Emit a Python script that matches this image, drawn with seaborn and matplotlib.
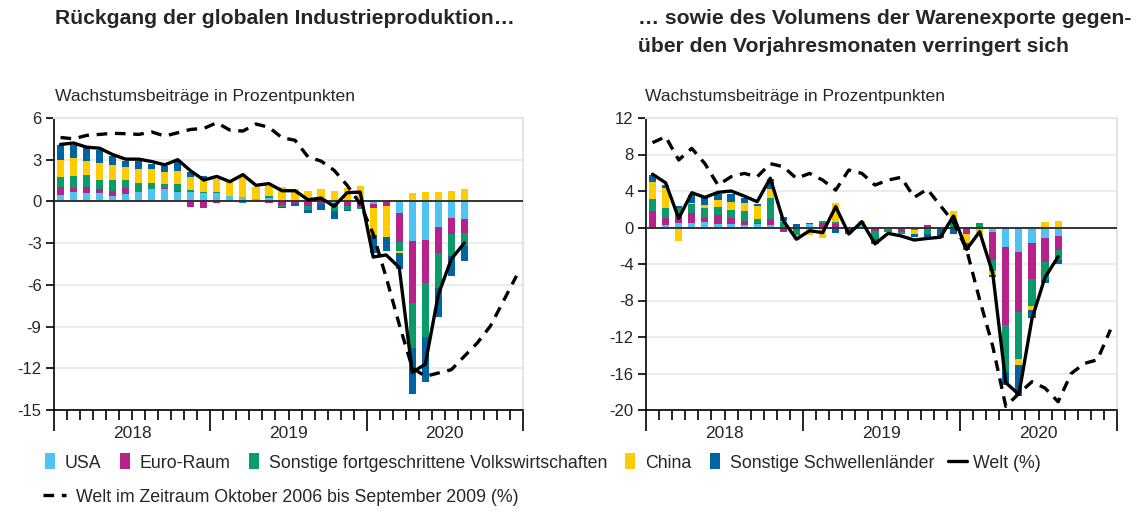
import numpy as np
import matplotlib.pyplot as plt
import seaborn as sns
from matplotlib.lines import Line2D

# Monatswerte Jan 2018 - Aug 2020 (Wachstumsbeiträge, Prozentpunkte)
# --- Industrieproduktion (links) ---
usa_l = [0.48, 0.65, 0.6, 0.6, 0.41, 0.53, 0.65, 0.87, 0.87, 0.67, 0.65, 0.6, 0.58, 0.41, 0.34, 0.14,
         0.24, 0.0, 0.0, 0.0, 0.0, -0.1, 0.0, 0.0, -0.15, 0.0, -0.84, -2.82, -2.77, -1.86, -1.2, -1.25]
euro_l = [0.58, 0.31, 0.46, 0.29, 0.31, 0.41, 0.05, 0.05, 0.07, 0.07, -0.43, -0.5, -0.1, 0.0, -0.05, -0.07,
          -0.1, -0.25, -0.2, -0.31, -0.2, -0.2, -0.31, -0.43, -0.29, -0.36, -2.1, -4.5, -3.13, -1.86, -1.13, -1.01]
other_l = [0.67, 0.84, 0.82, 0.67, 0.84, 0.58, 0.63, 0.41, 0.31, 0.5, 0.17, 0.07, 0.12, -0.05, -0.05, 0.07,
           0.14, -0.15, 0.0, -0.31, 0.0, -0.36, -0.31, -0.15, 0.0, 0.05, -0.6, -3.25, -3.83, -2.53, -1.61, -0.96]
china_l = [1.28, 1.3, 1.06, 1.18, 1.08, 0.99, 1.01, 1.01, 0.87, 0.96, 0.92, 0.89, 0.92, 1.01, 1.52, 0.84,
           0.72, 1.06, 0.87, 0.77, 0.92, 0.77, 0.99, 1.1, -2.0, -2.2, -0.17, 0.63, 0.7, 0.7, 0.77, 0.92]
em_l = [1.04, 0.94, 0.89, 0.96, 0.6, 0.43, 0.6, 0.36, 0.46, 0.77, 0.41, 0.29, 0.0, 0.0, 0.0, 0.0,
        0.0, -0.1, -0.1, -0.22, -0.45, -0.6, -0.07, 0.0, -1.3, -1.0, -1.16, -3.25, -3.28, -2.05, -1.4, -1.04]
world_l = [4.1, 4.2, 3.9, 3.83, 3.37, 3.04, 3.04, 2.87, 2.63, 3.0, 2.19, 1.54, 1.8, 1.42, 1.93, 1.16,
           1.28, 0.77, 0.77, 0.12, 0.24, -0.36, 0.63, 0.67, -4.0, -3.85, -4.75, -12.3, -11.7, -6.7, -4.14, -2.99]
# Okt 2006 - Sep 2009
crisis_l = [4.6, 4.5, 4.75, 4.82, 4.9, 4.87, 4.82, 5.0, 4.7, 4.94, 5.18, 5.25, 5.66, 5.13, 5.06, 5.57,
            5.33, 4.58, 4.4, 3.2, 2.9, 2.24, 1.16, -0.17, -2.34, -5.47, -8.84, -11.97, -12.58, -12.34,
            -12.1, -11.13, -10.17, -8.96, -7.16, -5.35]

# --- Warenexporte (rechts) ---
usa_r = [0.1, 0.25, 0.47, 0.47, 0.62, 0.36, 0.36, 0.25, 0.36, 0.25, 0.0, 0.0, 0.4, 0.0, 0.0, -0.1,
         0.35, 0.0, -0.15, 0.0, 0.0, 0.0, 0.0, 0.0, -0.1, 0.0, -0.47, -2.1, -2.66, -1.75, -1.1, -0.95]
euro_r = [1.72, 0.77, 0.55, 1.1, 0.4, 0.99, 0.66, 0.47, 0.11, 0.66, -0.5, -0.3, 0.0, 0.5, 0.36, 0.0,
          0.0, -0.4, 0.0, -0.45, 0.0, 0.3, 0.0, -0.2, -0.65, 0.0, -3.1, -8.6, -6.57, -3.94, -2.66, -1.53]
other_r = [1.31, 1.1, 1.1, 0.99, 1.17, 0.95, 0.91, 1.1, 0.44, 2.3, 0.55, -0.5, 0.0, 0.2, 0.25, -0.1,
           0.0, -0.9, -0.35, -0.3, -0.25, -0.75, 0.0, 0.9, 0.0, 0.45, -1.17, -5.1, -5.2, -2.92, -2.0, -1.1]
china_r = [1.9, 2.2, -1.53, 0.15, 0.3, 0.69, 0.91, 0.91, 1.46, 0.99, 0.2, -0.6, -0.85, -1.1, 2.08, 0.0,
           0.35, 0.0, 0.0, 0.1, -0.45, 0.0, 0.1, 0.9, -0.9, -0.9, -0.47, 0.0, -0.62, -0.44, 0.55, 0.73]
em_r = [0.73, 0.37, 0.25, 0.9, 0.73, 0.66, 0.8, 0.47, 0.18, 1.1, 0.35, 0.4, 0.1, 0.0, -0.55, -0.5,
        0.0, -0.5, 0.0, 0.0, -0.35, -0.4, -1.1, -0.5, -0.8, 0.0, -0.18, -1.46, -3.47, -0.91, -0.36, -0.44]
world_r = [5.84, 4.9, 1.0, 3.81, 3.3, 3.85, 4.0, 3.45, 2.83, 5.4, 0.73, -1.28, -0.35, -0.57, 2.28, -0.71,
           0.64, -1.8, -0.64, -0.93, -1.37, -1.2, -1.07, 1.26, -2.4, -0.46, -5.0, -17.0, -18.3, -10.0, -5.46, -3.2]
crisis_r = [9.3, 9.95, 7.4, 8.67, 7.0, 4.65, 5.56, 5.93, 5.56, 7.0, 6.66, 5.38, 5.93, 5.2, 4.1, 6.3,
            5.93, 4.65, 5.2, 5.5, 3.3, 4.2, 2.4, 0.6, -2.4, -7.9, -13.0, -19.6, -18.2, -16.9,
            -17.6, -19.1, -16.0, -14.9, -14.5, -11.2]

years = ['2018', '2019', '2020']
labels = ['USA', 'Euro-Raum', 'Sonstige fortgeschrittene Volkswirtschaften', 'China',
          'Sonstige Schwellenländer']
colors = ['#4fc3f1', '#b7218a', '#0b9a6a', '#ffcc00', '#0064a3']

W, H = 1147, 514

sns.set_theme(style='white')
plt.rcParams['font.family'] = ['Liberation Sans', 'DejaVu Sans']
plt.rcParams['axes.unicode_minus'] = False


def draw_panel(ax, parts, world, crisis, ylim, yticks):
    x = np.arange(len(world))
    pos = np.zeros(len(x))
    neg = np.zeros(len(x))
    for vals, col in zip(parts, colors):
        v = np.array(vals)
        bottom = np.where(v >= 0, pos, neg)
        ax.bar(x, v, width=0.55, bottom=bottom, color=col, linewidth=0, zorder=2)
        pos += np.clip(v, 0, None)
        neg += np.clip(v, None, 0)
    ax.axhline(0, color='#333333', lw=1.4, zorder=3)
    sns.lineplot(x=np.arange(len(crisis)), y=crisis, ax=ax, color='black', lw=2.4,
                 linestyle=(0, (3.2, 2.3)), zorder=4, legend=False)
    sns.lineplot(x=x, y=world, ax=ax, color='black', lw=2.4, zorder=5, legend=False)

    ax.set_xlim(-0.5, 35.5)
    ax.set_ylim(*ylim)
    ax.set_yticks(yticks)
    ax.set_xticks([-0.5, 11.5, 23.5, 35.5])
    ax.set_xticklabels([])
    ax.set_xticks(np.arange(-0.5, 36, 1), minor=True)
    ax.tick_params(axis='x', which='major', bottom=True, length=15, width=1.2, color='black')
    ax.tick_params(axis='x', which='minor', bottom=True, length=7, width=1.2, color='black')
    ax.tick_params(axis='y', left=True, length=6, width=1.2, color='black', labelsize=12, pad=3)
    for cx, yr in zip([5.5, 17.5, 29.5], years):
        ax.text(cx, -0.08, yr, transform=ax.get_xaxis_transform(), ha='center', va='center',
                fontsize=12.5)
    ax.yaxis.grid(True, color='#ebebeb', lw=1.5)
    ax.set_axisbelow(True)
    for s in ['left', 'bottom']:
        ax.spines[s].set_color('black')
        ax.spines[s].set_linewidth(1.2)
    for s in ['top', 'right']:
        ax.spines[s].set_color('#e6e6e6')
        ax.spines[s].set_linewidth(1.5)
    ax.set_xlabel('')
    ax.set_ylabel('')


fig = plt.figure(figsize=(W / 100, H / 100), dpi=100)
ax_l = fig.add_axes([54 / W, 1 - 410 / H, 469 / W, 292 / H])
ax_r = fig.add_axes([646 / W, 1 - 410 / H, 471 / W, 292 / H])

draw_panel(ax_l, [usa_l, euro_l, other_l, china_l, em_l], world_l, crisis_l, (-15, 6), range(-15, 7, 3))
draw_panel(ax_r, [usa_r, euro_r, other_r, china_r, em_r], world_r, crisis_r, (-20, 12), range(-20, 13, 4))

fig.text(55 / W, 1 - 18 / H, 'Rückgang der globalen Industrieproduktion…', fontsize=15.2,
         fontweight='bold', va='center')
fig.text(638 / W, 1 - 18 / H, '… sowie des Volumens der Warenexporte gegen-', fontsize=15.2,
         fontweight='bold', va='center')
fig.text(638 / W, 1 - 47 / H, 'über den Vorjahresmonaten verringert sich', fontsize=15.2,
         fontweight='bold', va='center')
fig.text(55 / W, 1 - 97 / H, 'Wachstumsbeiträge in Prozentpunkten', fontsize=12.6, va='center')
fig.text(645 / W, 1 - 97 / H, 'Wachstumsbeiträge in Prozentpunkten', fontsize=12.6, va='center')

rect = [(-0.3, -0.5), (0.3, -0.5), (0.3, 0.5), (-0.3, 0.5), (-0.3, -0.5)]
handles = [Line2D([0], [0], marker=rect, linestyle='none', markersize=11.5, markerfacecolor=c,
                  markeredgewidth=0) for c in colors]
handles.append(Line2D([0], [0], color='black', lw=2.4))
fig.legend(handles, labels + ['Welt (%)'], loc='center left', bbox_to_anchor=(40 / W, 1 - 463 / H),
           ncol=6, frameon=False, fontsize=12.8, handlelength=1.1, handletextpad=0.3,
           columnspacing=0.75, borderpad=0, borderaxespad=0)
fig.legend([Line2D([0], [0], color='black', lw=2.4, linestyle=(0, (3.2, 2.3)))],
           ['Welt im Zeitraum Oktober 2006 bis September 2009 (%)'], loc='center left',
           bbox_to_anchor=(43 / W, 1 - 497 / H), frameon=False, fontsize=12.8, handlelength=1.3,
           handletextpad=0.55, borderpad=0, borderaxespad=0)

fig.savefig('out.png', dpi=100)
